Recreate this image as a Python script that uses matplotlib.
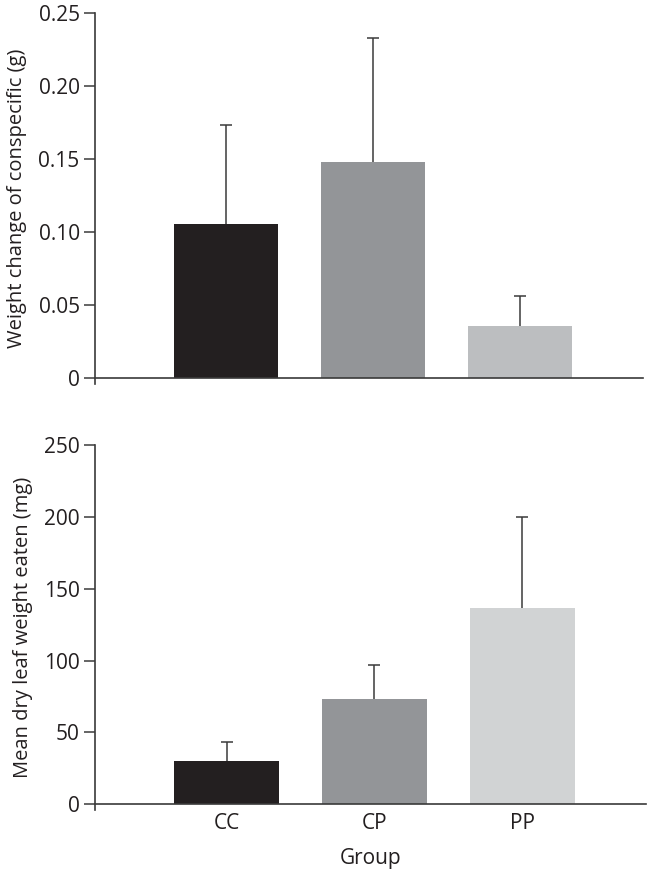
import matplotlib.pyplot as plt
import numpy as np

plt.rcParams["font.family"] = ["Open Sans", "DejaVu Sans"]

groups = ["CC", "CP", "PP"]

# top panel: weight change of conspecific (g)
weight_change = [0.1055, 0.148, 0.036]
weight_change_err = [0.068, 0.085, 0.020]
top_colors = ["#231f20", "#939598", "#bcbec0"]

# bottom panel: mean dry leaf weight eaten (mg)
leaf_eaten = [30, 73, 136.5]
leaf_eaten_err = [13, 24, 63.5]
bottom_colors = ["#231f20", "#939598", "#d1d3d4"]

fig = plt.figure(figsize=(6.55, 8.76), dpi=100)
ax1 = fig.add_axes([0.145, 0.5616, 0.837, 0.4234])
ax2 = fig.add_axes([0.145, 0.0753, 0.842, 0.4167])

x = np.arange(len(groups))


def draw(ax, vals, errs, colors, ymax, ticks, ticklabels, ylabel):
    ax.bar(x, vals, width=0.71, color=colors, zorder=2)
    # upward-only error bars
    eb = ax.errorbar(x, vals, yerr=[np.zeros(len(errs)), errs], fmt="none",
                     ecolor="#3a3a3a", elinewidth=1.1, capsize=4.5,
                     capthick=1.1, zorder=1)
    eb[1][0].set_visible(False)
    ax.set_xlim(-0.89, 2.84)
    ax.set_ylim(-ymax * 0.016, ymax)
    ax.spines["top"].set_visible(False)
    ax.spines["right"].set_visible(False)
    ax.spines["bottom"].set_position(("data", 0))
    for s in ("left", "bottom"):
        ax.spines[s].set_color("#3a3a3a")
        ax.spines[s].set_linewidth(1.2)
    ax.set_yticks(ticks)
    ax.set_yticklabels(ticklabels)
    ax.tick_params(axis="y", direction="out", length=8, width=1.1,
                   color="#3a3a3a", labelsize=15, pad=3, labelcolor="#231f20")
    ax.set_ylabel(ylabel, fontsize=14.5, color="#231f20", labelpad=8)


draw(ax1, weight_change, weight_change_err, top_colors, 0.25,
     [0, 0.05, 0.10, 0.15, 0.20, 0.25],
     ["0", "0.05", "0.10", "0.15", "0.20", "0.25"],
     "Weight change of conspecific (g)")
ax1.set_xticks([])

draw(ax2, leaf_eaten, leaf_eaten_err, bottom_colors, 250,
     [0, 50, 100, 150, 200, 250],
     ["0", "50", "100", "150", "200", "250"],
     "Mean dry leaf weight eaten (mg)")
ax2.set_xticks(x)
ax2.set_xticklabels(groups)
ax2.tick_params(axis="x", length=0, labelsize=15, pad=6, labelcolor="#231f20")
ax2.set_xlabel("Group", fontsize=15, color="#231f20", labelpad=10)

fig.savefig("out.png", dpi=100)
